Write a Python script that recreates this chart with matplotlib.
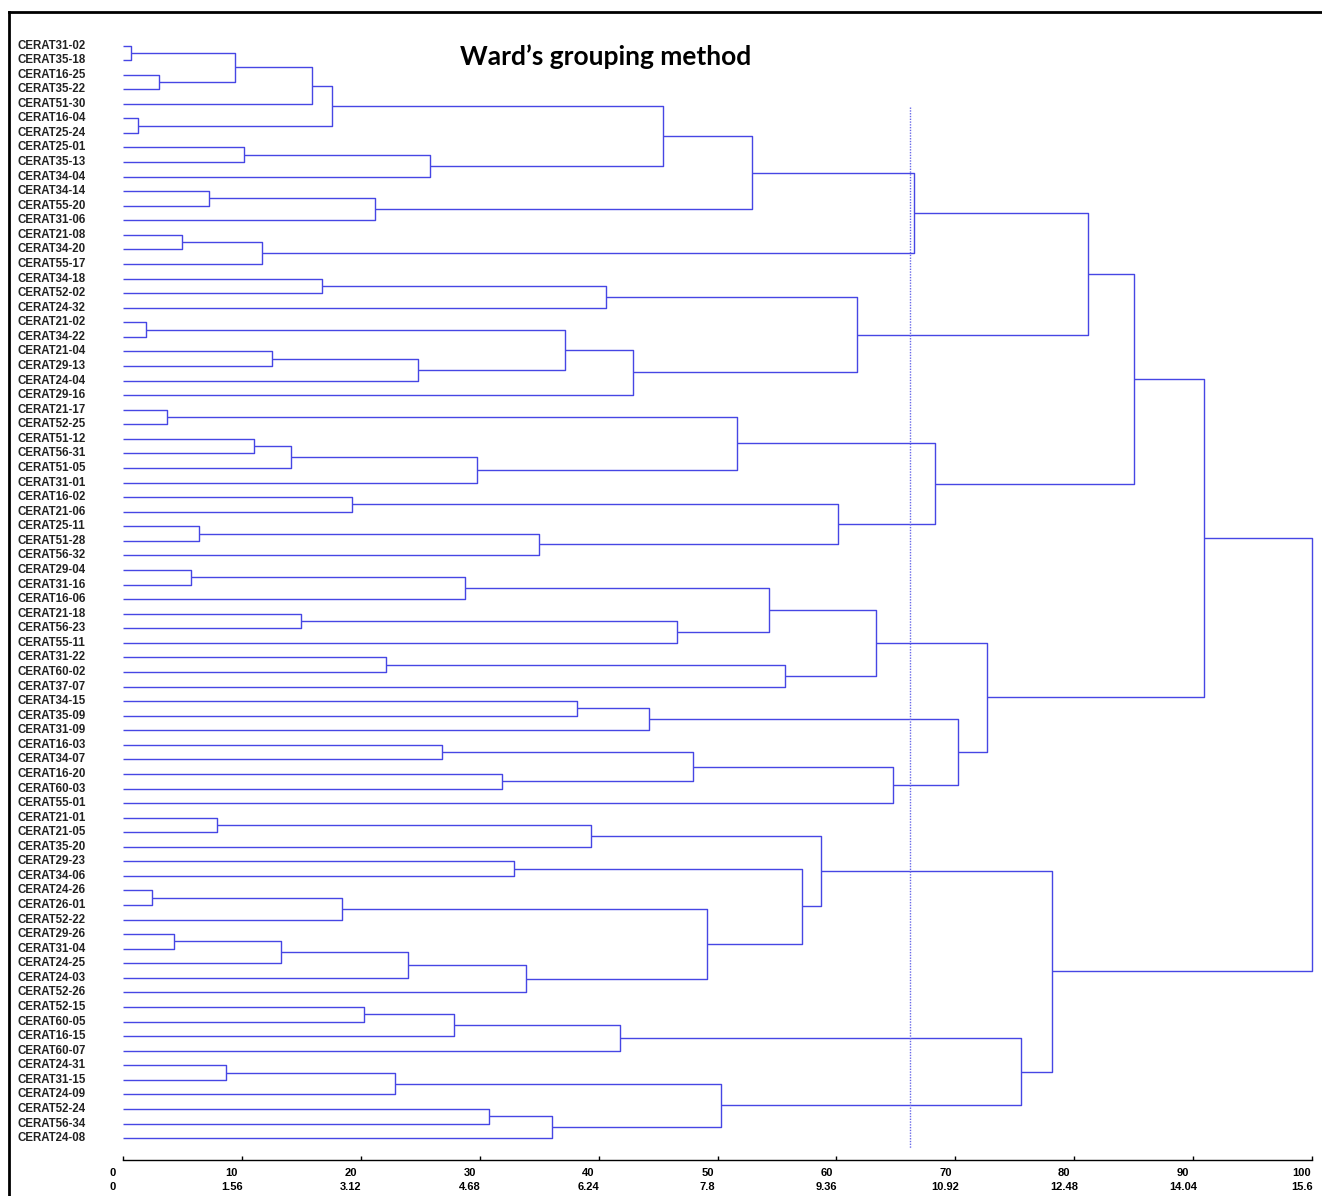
import matplotlib
matplotlib.use("Agg")
import matplotlib.pyplot as plt
from matplotlib.lines import Line2D
from matplotlib.transforms import ScaledTranslation, blended_transform_factory

# leaves, top to bottom
leaves = [
    "CERAT31-02", "CERAT35-18", "CERAT16-25", "CERAT35-22", "CERAT51-30",
    "CERAT16-04", "CERAT25-24", "CERAT25-01", "CERAT35-13", "CERAT34-04",
    "CERAT34-14", "CERAT55-20", "CERAT31-06", "CERAT21-08", "CERAT34-20",
    "CERAT55-17", "CERAT34-18", "CERAT52-02", "CERAT24-32", "CERAT21-02",
    "CERAT34-22", "CERAT21-04", "CERAT29-13", "CERAT24-04", "CERAT29-16",
    "CERAT21-17", "CERAT52-25", "CERAT51-12", "CERAT56-31", "CERAT51-05",
    "CERAT31-01", "CERAT16-02", "CERAT21-06", "CERAT25-11", "CERAT51-28",
    "CERAT56-32", "CERAT29-04", "CERAT31-16", "CERAT16-06", "CERAT21-18",
    "CERAT56-23", "CERAT55-11", "CERAT31-22", "CERAT60-02", "CERAT37-07",
    "CERAT34-15", "CERAT35-09", "CERAT31-09", "CERAT16-03", "CERAT34-07",
    "CERAT16-20", "CERAT60-03", "CERAT55-01", "CERAT21-01", "CERAT21-05",
    "CERAT35-20", "CERAT29-23", "CERAT34-06", "CERAT24-26", "CERAT26-01",
    "CERAT52-22", "CERAT29-26", "CERAT31-04", "CERAT24-25", "CERAT24-03",
    "CERAT52-26", "CERAT52-15", "CERAT60-05", "CERAT16-15", "CERAT60-07",
    "CERAT24-31", "CERAT31-15", "CERAT24-09", "CERAT52-24", "CERAT56-34",
    "CERAT24-08",
]

# merges: (child, child, linkage distance %) ; int = earlier merge index
merges = [
    ("CERAT31-02", "CERAT35-18", 0.7),
    ("CERAT16-25", "CERAT35-22", 3.0),
    (0, 1, 9.4),
    (2, "CERAT51-30", 15.9),
    ("CERAT16-04", "CERAT25-24", 1.3),
    (3, 4, 17.6),
    ("CERAT25-01", "CERAT35-13", 10.2),
    (6, "CERAT34-04", 25.8),
    (5, 7, 45.4),
    ("CERAT34-14", "CERAT55-20", 7.2),
    (9, "CERAT31-06", 21.2),
    (8, 10, 52.9),
    ("CERAT21-08", "CERAT34-20", 5.0),
    (12, "CERAT55-17", 11.7),
    (11, 13, 66.5),
    ("CERAT34-18", "CERAT52-02", 16.7),
    (15, "CERAT24-32", 40.6),
    ("CERAT21-02", "CERAT34-22", 1.9),
    ("CERAT21-04", "CERAT29-13", 12.5),
    (18, "CERAT24-04", 24.8),
    (17, 19, 37.2),
    (20, "CERAT29-16", 42.9),
    (16, 21, 61.7),
    (14, 22, 81.2),
    ("CERAT21-17", "CERAT52-25", 3.7),
    ("CERAT51-12", "CERAT56-31", 11.0),
    (25, "CERAT51-05", 14.1),
    (26, "CERAT31-01", 29.8),
    (24, 27, 51.6),
    ("CERAT16-02", "CERAT21-06", 19.3),
    ("CERAT25-11", "CERAT51-28", 6.4),
    (30, "CERAT56-32", 35.0),
    (29, 31, 60.1),
    (28, 32, 68.3),
    (23, 33, 85.0),
    ("CERAT29-04", "CERAT31-16", 5.7),
    (35, "CERAT16-06", 28.8),
    ("CERAT21-18", "CERAT56-23", 15.0),
    (37, "CERAT55-11", 46.6),
    (36, 38, 54.3),
    ("CERAT31-22", "CERAT60-02", 22.1),
    (40, "CERAT37-07", 55.7),
    (39, 41, 63.3),
    ("CERAT34-15", "CERAT35-09", 38.2),
    (43, "CERAT31-09", 44.2),
    ("CERAT16-03", "CERAT34-07", 26.8),
    ("CERAT16-20", "CERAT60-03", 31.9),
    (45, 46, 47.9),
    (47, "CERAT55-01", 64.8),
    (44, 48, 70.2),
    (42, 49, 72.7),
    (34, 50, 90.9),
    ("CERAT21-01", "CERAT21-05", 7.9),
    (52, "CERAT35-20", 39.4),
    ("CERAT29-23", "CERAT34-06", 32.9),
    ("CERAT24-26", "CERAT26-01", 2.4),
    (55, "CERAT52-22", 18.4),
    ("CERAT29-26", "CERAT31-04", 4.3),
    (57, "CERAT24-25", 13.3),
    (58, "CERAT24-03", 24.0),
    (59, "CERAT52-26", 33.9),
    (56, 60, 49.1),
    (54, 61, 57.1),
    (53, 62, 58.7),
    ("CERAT52-15", "CERAT60-05", 20.3),
    (64, "CERAT16-15", 27.8),
    (65, "CERAT60-07", 41.8),
    ("CERAT24-31", "CERAT31-15", 8.7),
    (67, "CERAT24-09", 22.9),
    ("CERAT52-24", "CERAT56-34", 30.8),
    (69, "CERAT24-08", 36.1),
    (68, 70, 50.3),
    (66, 71, 75.5),
    (63, 72, 78.1),
    (51, 73, 100.0),
]

pct_ticks = [0, 10, 20, 30, 40, 50, 60, 70, 80, 90, 100]
dist_ticks = ["0", "1.56", "3.12", "4.68", "6.24", "7.8", "9.36", "10.92", "12.48", "14.04", "15.6"]
cut_level = 66.2

line_col = "#4646e4"

fig = plt.figure(figsize=(13.22, 11.96), dpi=100)
ax = fig.add_axes([123 / 1322, 1 - 1160 / 1196, (1312 - 123) / 1322, (1160 - 12) / 1196])

# positions of every node
pos = {name: (i, 0.0) for i, name in enumerate(leaves)}
node_pos = []
for a, b, h in merges:
    ya, ha = node_pos[a] if isinstance(a, int) else pos[a]
    yb, hb = node_pos[b] if isinstance(b, int) else pos[b]
    ax.plot([ha, h, h, hb], [ya, ya, yb, yb], color=line_col, lw=1.0,
            solid_capstyle="butt", clip_on=False)
    node_pos.append(((ya + yb) / 2, h))

# cut line
ax.plot([cut_level, cut_level], [4.2, 75.7], color="#6868e8", lw=1.0, linestyle=(0, (1, 1)))

ax.set_xlim(0, 100)
ax.set_ylim(76.5, -2.3)
ax.set_yticks([])
for s in ["left", "top", "right"]:
    ax.spines[s].set_visible(False)
ax.spines["bottom"].set_linewidth(1.0)

ax.set_xticks(pct_ticks)
ax.set_xticklabels([f"{p}\n{d}" for p, d in zip(pct_ticks, dist_ticks)],
                   fontsize=8, fontweight="bold", family="Liberation Sans", linespacing=1.4)
ax.tick_params(axis="x", direction="in", length=3, width=1, pad=6)
for lab in ax.get_xticklabels():
    lab.set_transform(lab.get_transform() + ScaledTranslation(-10 / 100, 0, fig.dpi_scale_trans))

# leaf labels at the left edge
trans = blended_transform_factory(fig.transFigure, ax.transData)
for i, name in enumerate(leaves):
    ax.text(17 / 1322, i, name, transform=trans, ha="left", va="center",
            fontsize=8.3, fontweight="bold", family="Liberation Sans", color="#222222", clip_on=False)

fig.text(606 / 1322, 1 - 57 / 1196, "Ward\u2019s grouping method", ha="center", va="center",
         fontsize=19, fontweight="bold", family="Lato")

# frame
fig.add_artist(Line2D([9 / 1322, 9 / 1322], [0, 1 - 12 / 1196], color="black", lw=2, transform=fig.transFigure))
fig.add_artist(Line2D([9 / 1322, 1], [1 - 12 / 1196, 1 - 12 / 1196], color="black", lw=2, transform=fig.transFigure))

fig.savefig("out.png", dpi=100)
